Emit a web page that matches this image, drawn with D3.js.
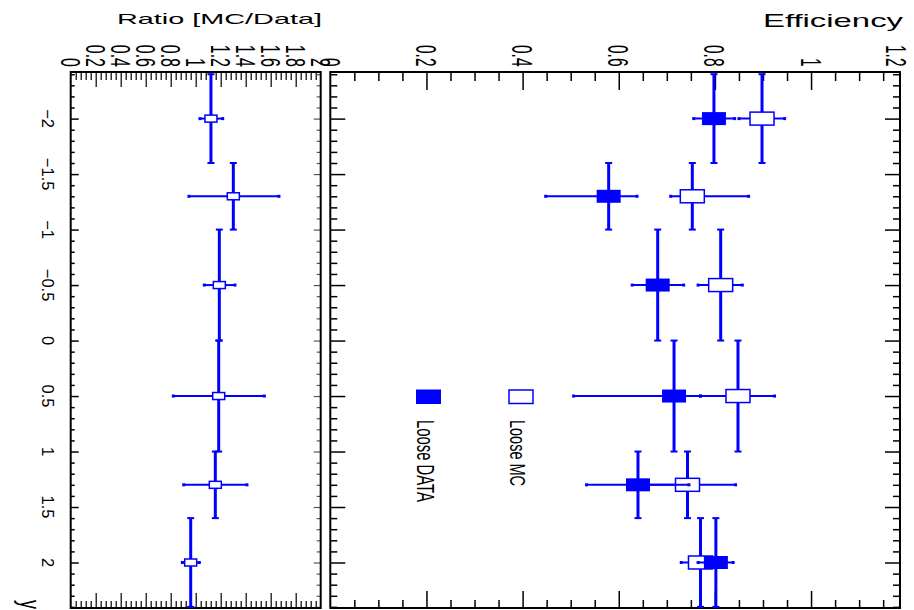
<!DOCTYPE html>
<html>
<head>
<meta charset="utf-8">
<script src="https://cdn.jsdelivr.net/npm/d3@7.9.0/dist/d3.min.js"></script>
<style>
  body { margin: 0; background: #fff; }
  svg { display: block; }
  text { font-family: "Liberation Sans", Arial, sans-serif; fill: #000; }
</style>
</head>
<body>
<svg id="chart" width="914" height="610"></svg>
<script>
// rapidity bins
const binLow    = [-2.4, -1.6, -1.0, 0.0, 1.0, 1.6];
const binHigh   = [-1.6, -1.0, 0.0, 1.0, 1.6, 2.4];
const binCenter = [-2.0, -1.3, -0.5, 0.5, 1.3, 2.0];

// Loose DATA efficiency (asymmetric errors)
const dataEff  = [0.798, 0.579, 0.681, 0.715, 0.640, 0.802];
const dataLow  = [0.042, 0.131, 0.053, 0.209, 0.107, 0.037];
const dataHigh = [0.043, 0.059, 0.054, 0.055, 0.106, 0.036];

// Loose MC efficiency
const mcEff  = [0.898, 0.753, 0.812, 0.848, 0.743, 0.770];
const mcLow  = [0.048, 0.045, 0.047, 0.078, 0.100, 0.040];
const mcHigh = [0.047, 0.117, 0.045, 0.076, 0.100, 0.040];

// ratio MC/Data
const ratio     = [1.122, 1.301, 1.189, 1.184, 1.157, 0.960];
const ratioLow  = [0.088, 0.355, 0.120, 0.363, 0.253, 0.067];
const ratioHigh = [0.094, 0.365, 0.125, 0.365, 0.253, 0.069];

// tick labels
const rapTicks   = [-2, -1.5, -1, -0.5, 0, 0.5, 1, 1.5, 2];
const effTicks   = [0, 0.2, 0.4, 0.6, 0.8, 1, 1.2];
const ratioTicks = [0, 0.2, 0.4, 0.6, 0.8, 1, 1.2, 1.4, 1.6, 1.8, 2];

const blue = '#0000ff';
const svg = d3.select('#chart');

const frameTop = 72, frameBottom = 608;
const yRap = d3.scaleLinear().domain([-2.42, 2.41]).range([frameTop, frameBottom]);
const xEff = d3.scaleLinear().domain([0, 1.185]).range([330.3, 900]);
const xRat = d3.scaleLinear().domain([0, 2]).range([70.7, 320.7]);

const rapMinor = d3.range(-2.4, 2.45, 0.1).map(v => +v.toFixed(2)).filter(v => !rapTicks.includes(v));

// tick helper: axis drawn at a frame edge, ticks only
function tickRow(axisFn, scale, values, size, pos, horizontal, width, color) {
  const g = svg.append('g')
    .attr('transform', horizontal ? `translate(0,${pos})` : `translate(${pos},0)`)
    .call(axisFn(scale).tickValues(values).tickSize(size).tickFormat(''));
  g.select('.domain').remove();
  g.selectAll('line').attr('stroke', color || '#000').attr('stroke-width', width);
}

// vertical text (rotated clockwise), stretched across its glyph height by k
function vtext(x, y, str, size, k, anchor, len) {
  const t = svg.append('text')
    .attr('transform', `translate(${x},${y}) rotate(90) scale(1,${k})`)
    .attr('text-anchor', anchor)
    .attr('font-size', size)
    .text(str);
  if (len) t.attr('textLength', len).attr('lengthAdjust', 'spacingAndGlyphs');
  return t;
}

// ---- upper panel: efficiency ----
const effMinor = d3.range(0, 1.19, 0.05).map(v => +v.toFixed(2)).filter(v => !effTicks.includes(v));
const effMajorIn = effTicks.filter(v => v > 0 && v < 1.185);
tickRow(d3.axisTop, xEff, effMajorIn, -18, frameTop, true, 1.5);
tickRow(d3.axisTop, xEff, effMinor, -9, frameTop, true, 1.5);
tickRow(d3.axisBottom, xEff, effMajorIn, -17, frameBottom, true, 1.5);
tickRow(d3.axisBottom, xEff, effMinor, -8, frameBottom, true, 1.5);
tickRow(d3.axisLeft, yRap, rapTicks, -15, 330.3, false, 1.5);
tickRow(d3.axisLeft, yRap, rapMinor, -7, 330.3, false, 1.5);
tickRow(d3.axisRight, yRap, rapTicks, -15, 900, false, 1.5);
tickRow(d3.axisRight, yRap, rapMinor, -7, 900, false, 1.5);

// ---- lower panel: ratio ----
const ratMinor = d3.range(0, 2.001, 0.04).map(v => +v.toFixed(2)).filter(v => !ratioTicks.includes(v));
const ratMajorIn = ratioTicks.filter(v => v > 0 && v < 2);
tickRow(d3.axisTop, xRat, ratMajorIn, -15, frameTop, true, 1.2);
tickRow(d3.axisTop, xRat, ratMinor, -8, frameTop, true, 1.2);
tickRow(d3.axisBottom, xRat, ratMajorIn, -15, frameBottom, true, 1.2);
tickRow(d3.axisBottom, xRat, ratMinor, -7, frameBottom, true, 1.2);
tickRow(d3.axisLeft, yRap, rapTicks, -8, 70.7, false, 1.5);
tickRow(d3.axisLeft, yRap, rapMinor, -4, 70.7, false, 1.5);
tickRow(d3.axisRight, yRap, rapTicks, -7, 320.7, false, 1.2, '#555');
tickRow(d3.axisRight, yRap, rapMinor, -4, 320.7, false, 1.2, '#555');

// frames
[xEff.range(), xRat.range()].forEach(([x0, x1]) => {
  svg.append('rect').attr('x', x0).attr('y', frameTop).attr('width', x1 - x0).attr('height', frameBottom - frameTop)
    .attr('fill', 'none').attr('stroke', '#000').attr('stroke-width', 2);
});

// tick labels (last efficiency label kept inside the picture)
effTicks.forEach(v => {
  const xc = Math.min(xEff(v), xEff.range()[1] - 4);
  vtext(xc - 10.5, 66.5, d3.format('~g')(v), 15.5, 1.9, 'end');
});
ratioTicks.forEach(v => {
  vtext(xRat(v) - 10, 67, d3.format('~g')(v), 16, 1.75, 'end');
});
rapTicks.forEach(v => {
  vtext(42, yRap(v), d3.format('~g')(v), 16.5, 1, 'middle');
});

// axis titles
svg.append('text').attr('x', 763).attr('y', 26.7).attr('font-size', 18.6)
  .attr('textLength', 140).attr('lengthAdjust', 'spacingAndGlyphs').text('Efficiency');
svg.append('text').attr('x', 117).attr('y', 23.5).attr('font-size', 15)
  .attr('textLength', 205).attr('lengthAdjust', 'spacingAndGlyphs').text('Ratio [MC/Data]');
vtext(20, 609, 'y', 18, 1.6, 'end');

// series drawing
function drawSeries(xs, vals, lo, hi, filled, boxW, boxH) {
  const g = svg.append('g');
  vals.forEach((v, i) => {
    const x = xs(v), yc = yRap(binCenter[i]);
    const y0 = yRap(binLow[i]), y1 = yRap(binHigh[i]);
    const xl = xs(v - lo[i]), xh = xs(v + hi[i]);
    // bin-width bar
    g.append('line').attr('x1', x).attr('x2', x).attr('y1', y0).attr('y2', y1)
      .attr('stroke', blue).attr('stroke-width', 3);
    [y0, y1].forEach(yy => g.append('line').attr('x1', x - 3.5).attr('x2', x + 3.5)
      .attr('y1', yy).attr('y2', yy).attr('stroke', blue).attr('stroke-width', 2));
    // error bar
    g.append('line').attr('x1', xl).attr('x2', xh).attr('y1', yc).attr('y2', yc)
      .attr('stroke', blue).attr('stroke-width', 2);
    [xl, xh].forEach(xx => g.append('rect').attr('x', xx - 1.5).attr('y', yc - 1.5)
      .attr('width', 3).attr('height', 3).attr('fill', blue));
    // marker
    g.append('rect').attr('x', x - boxW / 2).attr('y', yc - boxH / 2)
      .attr('width', boxW).attr('height', boxH)
      .attr('fill', filled ? blue : '#fff')
      .attr('stroke', blue).attr('stroke-width', filled ? 0 : 1.5);
  });
}

drawSeries(xEff, mcEff, mcLow, mcHigh, false, 24, 13);
drawSeries(xEff, dataEff, dataLow, dataHigh, true, 24, 13);
drawSeries(xRat, ratio, ratioLow, ratioHigh, false, 12, 7);

// legend
svg.append('rect').attr('x', 416).attr('y', 389.5).attr('width', 25).attr('height', 14.5).attr('fill', blue);
svg.append('rect').attr('x', 509).attr('y', 390).attr('width', 24).attr('height', 13.5)
  .attr('fill', '#fff').attr('stroke', blue).attr('stroke-width', 1.5);
vtext(416.7, 420, 'Loose DATA', 14.4, 1.62, 'start', 82);
vtext(510, 420, 'Loose MC', 14.6, 1.45, 'start', 66);
</script>
</body>
</html>
